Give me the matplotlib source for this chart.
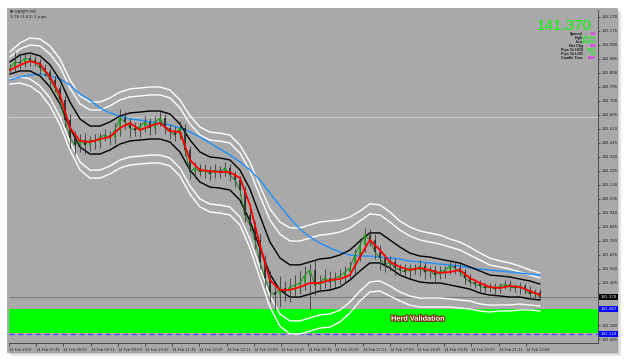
import numpy as np
import matplotlib
matplotlib.use("Agg")
import matplotlib.pyplot as plt
from matplotlib.patches import Rectangle
import matplotlib.patheffects as pe

# ---------------- data (GBPJPY M1, 14 Feb 2019) ----------------
first_open = 142.915
bar_close = [
    142.924, 142.965, 142.958, 142.992, 142.978, 142.965, 142.924, 142.897, 142.843, 142.788,
    142.707, 142.571, 142.449, 142.401, 142.435, 142.401, 142.435, 142.422, 142.456, 142.469,
    142.449, 142.503, 142.585, 142.558, 142.517, 142.503, 142.530, 142.558, 142.517, 142.558,
    142.585, 142.517, 142.490, 142.469, 142.517, 142.368, 142.218, 142.245, 142.218, 142.232,
    142.205, 142.232, 142.218, 142.245, 142.198, 142.164, 142.096, 141.926, 141.859, 141.757,
    141.608, 141.499, 141.404, 141.384, 141.431, 141.404, 141.438, 141.451, 141.465, 141.519,
    141.553, 141.451, 141.472, 141.499, 141.472, 141.499, 141.513, 141.540, 141.567, 141.655,
    141.723, 141.791, 141.757, 141.675, 141.635, 141.587, 141.608, 141.567, 141.553, 141.540,
    141.567, 141.553, 141.580, 141.540, 141.553, 141.519, 141.540, 141.553, 141.580, 141.567,
    141.540, 141.499, 141.472, 141.458, 141.445, 141.431, 141.438, 141.424, 141.445, 141.458,
    141.438, 141.431, 141.445, 141.418, 141.390, 141.404, 141.370]
wick_up_pips = [
    3, 7, 6, 4, 3, 3, 2, 3, 2, 3,
    2, 3, 4, 5, 4, 5, 3, 4, 3, 4,
    3, 5, 6, 4, 3, 4, 3, 4, 3, 4,
    5, 3, 3, 4, 5, 3, 3, 4, 3, 4,
    3, 4, 3, 4, 3, 3, 3, 3, 4, 3,
    4, 5, 5, 6, 8, 5, 6, 7, 8, 6,
    4, 6, 5, 6, 5, 4, 5, 4, 5, 4,
    5, 5, 4, 4, 5, 3, 4, 3, 3, 4,
    3, 3, 4, 3, 3, 3, 4, 3, 4, 3,
    3, 2, 3, 2, 3, 2, 3, 3, 2, 3,
    3, 2, 3, 2, 3, 2, 2]
wick_dn_pips = [
    3, 3, 4, 3, 4, 3, 4, 3, 4, 3,
    4, 5, 7, 6, 5, 6, 4, 5, 4, 3,
    5, 4, 4, 5, 6, 4, 5, 4, 5, 4,
    3, 4, 5, 4, 3, 4, 5, 4, 3, 4,
    4, 3, 4, 3, 4, 5, 4, 5, 4, 6,
    5, 6, 7, 10, 8, 6, 7, 6, 6, 5,
    24, 7, 5, 4, 5, 4, 4, 5, 4, 5,
    4, 5, 4, 5, 8, 5, 4, 5, 4, 3,
    4, 3, 4, 5, 4, 5, 3, 4, 3, 4,
    3, 4, 3, 3, 4, 3, 3, 4, 3, 2,
    3, 3, 4, 3, 2, 3, 2]

fast_ma = [
    142.910, 142.944, 142.971, 142.951, 142.863, 142.741, 142.517, 142.429, 142.422, 142.442,
    142.456, 142.517, 142.551, 142.503, 142.530, 142.551, 142.496, 142.490, 142.300, 142.232,
    142.225, 142.218, 142.218, 142.178, 141.994, 141.723, 141.485, 141.418, 141.418, 141.438,
    141.465, 141.465, 141.485, 141.492, 141.519, 141.641, 141.757, 141.689, 141.608, 141.574,
    141.553, 141.567, 141.553, 141.533, 141.540, 141.553, 141.499, 141.465, 141.438, 141.431,
    141.445, 141.438, 141.411, 141.384]
slow_ma = [
    142.843, 142.863, 142.876, 142.883, 142.870, 142.849, 142.809, 142.748, 142.707, 142.653,
    142.619, 142.598, 142.578, 142.571, 142.558, 142.551, 142.537, 142.517, 142.490, 142.456,
    142.415, 142.374, 142.334, 142.286, 142.232, 142.164, 142.076, 141.988, 141.906, 141.831,
    141.777, 141.736, 141.703, 141.675, 141.655, 141.648, 141.648, 141.641, 141.635, 141.628,
    141.614, 141.608, 141.601, 141.594, 141.587, 141.580, 141.567, 141.560, 141.553, 141.546,
    141.540, 141.533, 141.526, 141.519]
band_mid = [
    142.924, 142.958, 142.965, 142.938, 142.870, 142.761, 142.605, 142.483, 142.435, 142.435,
    142.463, 142.503, 142.524, 142.530, 142.537, 142.537, 142.517, 142.449, 142.334, 142.252,
    142.218, 142.211, 142.198, 142.130, 141.994, 141.811, 141.635, 141.526, 141.479, 141.479,
    141.499, 141.519, 141.526, 141.546, 141.587, 141.648, 141.703, 141.703, 141.662, 141.614,
    141.580, 141.560, 141.553, 141.546, 141.533, 141.519, 141.499, 141.472, 141.451, 141.445,
    141.438, 141.431, 141.418, 141.404]
band_black_pips = [
    4.1, 5.4, 6.1, 6.8, 7.5, 8.1, 8.8, 9.5, 9.5, 9.5,
    9.5, 9.5, 9.5, 9.5, 9.5, 9.5, 9.5, 9.5, 10.2, 10.2,
    10.2, 10.2, 10.2, 10.2, 10.9, 10.9, 10.9, 10.9, 10.9, 10.9,
    10.9, 10.9, 10.9, 10.9, 10.2, 10.2, 10.2, 10.2, 9.5, 9.5,
    8.8, 8.8, 8.8, 8.1, 8.1, 8.1, 7.5, 7.5, 6.8, 6.8,
    6.8, 6.1, 6.1, 5.4]
band_white1_pips = [
    7.5, 9.5, 11.5, 13.6, 14.9, 17.0, 18.3, 19.7, 20.4, 20.4,
    20.4, 20.4, 20.4, 20.4, 20.4, 20.4, 20.4, 20.4, 21.0, 21.7,
    21.7, 21.7, 21.7, 21.7, 23.1, 24.4, 25.8, 27.1, 27.1, 27.1,
    27.1, 27.1, 27.1, 26.5, 25.1, 23.8, 23.1, 22.4, 21.7, 21.0,
    20.4, 19.7, 19.0, 18.3, 17.6, 17.0, 15.6, 14.9, 13.6, 12.9,
    12.2, 10.9, 10.2, 9.5]
band_white2_pips = [
    10.9, 13.6, 16.3, 18.3, 20.4, 22.4, 23.8, 25.1, 25.8, 25.8,
    25.8, 25.8, 25.8, 25.8, 25.8, 25.8, 25.8, 25.8, 26.5, 27.1,
    27.1, 27.1, 27.1, 27.1, 29.2, 31.2, 33.3, 35.3, 36.0, 36.0,
    36.0, 36.0, 36.0, 34.6, 32.6, 30.5, 29.9, 29.2, 28.5, 27.1,
    26.5, 25.8, 25.1, 24.4, 23.1, 22.4, 21.0, 19.7, 18.3, 17.0,
    16.3, 14.9, 13.6, 12.9]

bar_interval_min = 8.82      # aggregated bar interval (minutes)
line_interval_min = 17.64    # indicator sample interval (minutes)
first_sample_min = 1.8

price_ticks = [round(143.270 - 0.095 * k, 3) for k in range(24)]
time_labels = ["14 Feb 2019", "14 Feb 07:35", "14 Feb 08:23", "14 Feb 09:11", "14 Feb 09:59",
               "14 Feb 10:47", "14 Feb 11:35", "14 Feb 12:23", "14 Feb 13:11", "14 Feb 13:59",
               "14 Feb 14:47", "14 Feb 15:35", "14 Feb 16:23", "14 Feb 17:11", "14 Feb 17:59",
               "14 Feb 18:47", "14 Feb 19:35", "14 Feb 20:23", "14 Feb 21:11", "14 Feb 22:06"]
label_step_min = 48

bid = 141.370
level_line = 142.591
zone_low, zone_high = 141.126, 141.289
dashed_level = 141.119
day_low = 141.287

info_labels = ["Spread", "High", "Low", "Net Chg", "Pips To HOD", "Pips To LOD", "Candle Time"]
info_values = ["0.3", "143.036", "141.287", "174", "166.6", "8.3", "0:48"]
info_colors = ["#ff00ff", "#00ff00", "#00ff00", "#ff00ff", "#00ff00", "#00ff00", "#ff00ff"]

# ---------------- figure ----------------
W, H = 625, 359
fig = plt.figure(figsize=(W / 100, H / 100), dpi=100)
fig.patch.set_facecolor("white")

def fx(px):
    return px / W

def fy(py):
    return 1 - py / H

for off, col in [(4, "#e4e4e4"), (2, "#cdcdcd")]:
    fig.patches.append(Rectangle((fx(7 + off), fy(352 + off)), 610 / W, 344 / H,
                                 transform=fig.transFigure, facecolor=col, edgecolor="none", zorder=-3))
fig.patches.append(Rectangle((fx(7), fy(352)), 610 / W, 344 / H, transform=fig.transFigure,
                             facecolor="#a9a9a9", edgecolor="#9a9a9a", lw=0.5, zorder=-2))

ax = fig.add_axes([fx(9), fy(343), 589 / W, 333 / H])
ax.set_zorder(1)
ax.set_facecolor("#a9a9a9")
px_per_min = 27.2 / 48
ax.set_xlim(0, 589 / px_per_min)
ax.set_ylim(bid - 46 / 147.37, bid + 287 / 147.37)

n_bar = len(bar_close)
bar_t = first_sample_min + bar_interval_min * np.arange(n_bar)
n_line = len(fast_ma)
line_t = first_sample_min + line_interval_min * np.arange(n_line)

close = np.array(bar_close)
opens = np.concatenate([[first_open], close[:-1]])
top = np.maximum(opens, close)
bot = np.minimum(opens, close)
highs = top + np.array(wick_up_pips) * 0.01
lows = bot - np.array(wick_dn_pips) * 0.01

# zones and levels
ax.axhspan(zone_low, zone_high, color="#00ff00", zorder=1, lw=0)
ax.axhline(level_line, color="#c9c9c9", lw=0.8, zorder=1.5)
ax.axhline(bid, color="#808080", lw=0.8, zorder=1.5)
ax.axhline(dashed_level, color="#4646ff", lw=0.9, ls=(0, (4, 3)), zorder=1.6)

mid = np.array(band_mid)
for w, col in [(band_white2_pips, "white"), (band_white1_pips, "white")]:
    ww = np.array(w) * 0.01
    ax.plot(line_t, mid + ww, color=col, lw=1.0, zorder=3)
    ax.plot(line_t, mid - ww, color=col, lw=1.0, zorder=3)
ax.plot(line_t, slow_ma, color="#1e90ff", lw=1.0, zorder=3.2)
bb = np.array(band_black_pips) * 0.01
ax.plot(line_t, mid + bb, color="black", lw=1.0, zorder=3.4)
ax.plot(line_t, mid - bb, color="black", lw=1.0, zorder=3.4)

# candles
ax.vlines(bar_t, lows, highs, color="#3a3a3a", lw=0.6, zorder=4)
ax.plot(bar_t, close, color="#1c7f1c", lw=0.6, zorder=4.1)
bull = close >= opens
ax.vlines(bar_t[bull], bot[bull], top[bull] + 0.001, color="#11a011", lw=1.2, zorder=4.2)
ax.vlines(bar_t[~bull], bot[~bull], top[~bull] + 0.001, color="#2a2a2a", lw=1.2, zorder=4.2)

ax.plot(line_t, fast_ma, color="#ff0000", lw=1.3, zorder=5)

# axes styling
for s in ["left", "top"]:
    ax.spines[s].set_visible(False)
for s in ["right", "bottom"]:
    ax.spines[s].set_color("#4a4a4a")
    ax.spines[s].set_linewidth(0.7)
ax.yaxis.tick_right()
ax.set_yticks(price_ticks)
ylabels = ["" if abs(p - bid) < 0.03 or abs(p - day_low) < 0.03 else f"{p:.3f}" for p in price_ticks]
ax.set_yticklabels(ylabels)
ax.tick_params(axis="y", labelsize=2.9, length=1.5, width=0.5, pad=1.2, colors="#1e1e1e")
xt = [label_step_min * k for k in range(len(time_labels))]
ax.set_xticks(xt)
ax.set_xticklabels(time_labels, ha="left")
ax.tick_params(axis="x", labelsize=2.6, length=2, width=0.5, pad=1.5, colors="#1e1e1e")

# price boxes on the axis
tr = ax.get_yaxis_transform()
for val, fc in [(bid, "black"), (day_low, "#0000ff"), (dashed_level, "#0000ff")]:
    ax.text(1.004, val, f"{val:.3f}", transform=tr, fontsize=2.9, color="white", va="center",
            ha="left", clip_on=False, zorder=10,
            bbox=dict(boxstyle="square,pad=0.3", fc=fc, ec="none"))

# herd validation label
ax.text((418 - 9) / 589 * ax.get_xlim()[1], (zone_low + zone_high) / 2 + 0.012, "Herd Validation",
        fontsize=5.3, fontweight="bold", family="Liberation Sans", color="white",
        ha="center", va="center", zorder=6,
        path_effects=[pe.withStroke(linewidth=1.6, foreground="#6a3000")])

# top-left info
fig.text(fx(10), fy(12), "\u25bc GBPJPY,M1", fontsize=3.0, color="#1e1e1e", va="center", zorder=5)
fig.text(fx(10), fy(17), "3.78 (3.63) 3 pips", fontsize=3.0, color="#1e1e1e", va="center", zorder=5)

# big price
fig.text(fx(592), fy(30), f"{bid:.3f}", fontsize=11, color="#00ff00", ha="right", va="baseline",
         family=["Liberation Sans Narrow", "Liberation Sans"], zorder=5)
rows_y = [34.0, 38.0, 42.0, 46.0, 50.0, 54.0, 58.0]
for lab, val, col, yy in zip(info_labels, info_values, info_colors, rows_y):
    fig.text(fx(583), fy(yy), lab, fontsize=2.7, color="#151515", ha="right", va="center",
             fontweight="bold", family="Liberation Sans", zorder=5)
    fig.text(fx(596), fy(yy), val, fontsize=2.7, color=col, ha="right", va="center",
             fontweight="bold", family="Liberation Sans", zorder=5)

fig.savefig("out.png", dpi=100, facecolor="white")
